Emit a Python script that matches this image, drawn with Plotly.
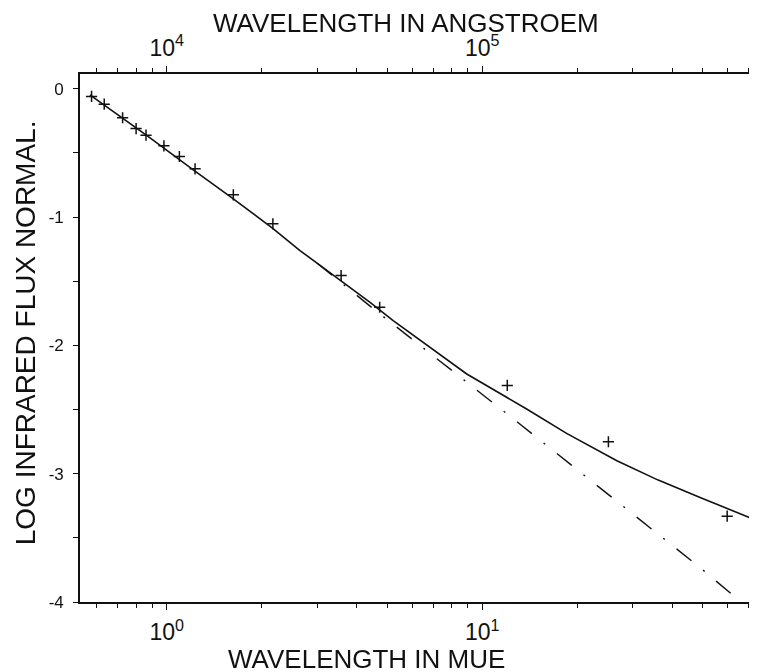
import plotly.graph_objects as go

# ---- data ----
obs_wavelength_um = [0.578, 0.634, 0.725, 0.80, 0.86, 0.98, 1.097, 1.23, 1.626, 2.17, 3.57, 4.73, 12.0, 25.1, 59.7]
obs_log_flux = [-0.060, -0.120, -0.226, -0.31, -0.362, -0.445, -0.528, -0.624, -0.827, -1.053, -1.456, -1.703, -2.312, -2.751, -3.331]

model_wavelength_um = [0.571, 0.72, 0.864, 1.214, 1.626, 2.178, 2.645, 3.33, 4.41, 5.22, 6.92, 8.93, 13.82, 18.5, 26.7, 36.1, 49.0, 73.7]
model_log_flux = [-0.047, -0.221, -0.364, -0.632, -0.858, -1.092, -1.261, -1.443, -1.665, -1.807, -2.028, -2.223, -2.496, -2.686, -2.899, -3.05, -3.186, -3.362]

photo_wavelength_um = [3.0, 4.46, 11.72, 49.0, 66.0]
photo_log_flux = [-1.36, -1.704, -2.515, -3.732, -4.0]

y_tick_vals = [0, -1, -2, -3, -4]
y_tick_text = ["0", "-1", "-2", "-3", "-4"]
y_minor_vals = [-0.5, -1.5, -2.5, -3.5]

bottom_tick_vals = [1, 10]
bottom_tick_text = ["10<sup>0</sup>", "10<sup>1</sup>"]
bottom_minor_vals = [0.6, 0.7, 0.8, 0.9, 2, 3, 4, 5, 6, 7, 8, 9, 20, 30, 40, 50, 60, 70]

top_tick_vals = [1e4, 1e5]
top_tick_text = ["10<sup>4</sup>", "10<sup>5</sup>"]
top_minor_vals = [6e3, 7e3, 8e3, 9e3, 2e4, 3e4, 4e4, 5e4, 6e4, 7e4, 8e4, 9e4, 2e5, 3e5, 4e5, 5e5, 6e5, 7e5]

UM_TO_A = 1e4
x_range_log = [-0.2747, 1.8705]
y_range = [-4.0, 0.115]

FONT = "Liberation Sans"
INK = "#111111"

fig = go.Figure()

fig.add_trace(go.Scatter(
    x=model_wavelength_um, y=model_log_flux, mode="lines",
    line=dict(color=INK, width=1.6), showlegend=False, hoverinfo="skip"))

fig.add_trace(go.Scatter(
    x=photo_wavelength_um, y=photo_log_flux, mode="lines",
    line=dict(color=INK, width=1.4, dash="19px,15px,2px,15px"),
    showlegend=False, hoverinfo="skip"))

fig.add_trace(go.Scatter(
    x=obs_wavelength_um, y=obs_log_flux, mode="markers",
    marker=dict(symbol="cross-thin", size=8, line=dict(color=INK, width=1.5)),
    showlegend=False))

# invisible trace carrying the top (Angstrom) axis
fig.add_trace(go.Scatter(
    x=[w * UM_TO_A for w in obs_wavelength_um], y=obs_log_flux,
    xaxis="x2", mode="markers", opacity=0, showlegend=False, hoverinfo="skip"))

axis_common = dict(
    type="log", showgrid=False, zeroline=False, showline=True, automargin=False,
    linecolor=INK, linewidth=1.6, ticks="outside", ticklen=6, tickwidth=1.3,
    tickcolor=INK, tickfont=dict(family=FONT, size=23, color=INK),
)

# page body has an 8px margin, so the figure is sized/offset to compensate
fig.update_layout(
    width=749, height=664,
    margin=dict(l=72, r=0, t=66, b=70, autoexpand=False),
    paper_bgcolor="white", plot_bgcolor="white",
    xaxis=dict(
        **axis_common, range=x_range_log,
        tickmode="array", tickvals=bottom_tick_vals, ticktext=bottom_tick_text,
        minor=dict(tickmode="array", tickvals=bottom_minor_vals, ticks="outside",
                   ticklen=4, tickwidth=1.2, tickcolor=INK, showgrid=False),
        ticklabelstandoff=3,
    ),
    xaxis2=dict(
        **axis_common, overlaying="x", side="top",
        range=[x_range_log[0] + 4, x_range_log[1] + 4],
        tickmode="array", tickvals=top_tick_vals, ticktext=top_tick_text,
        minor=dict(tickmode="array", tickvals=top_minor_vals, ticks="outside",
                   ticklen=4, tickwidth=1.2, tickcolor=INK, showgrid=False),
        ticklabelstandoff=1,
    ),
    yaxis=dict(
        range=y_range, showgrid=False, zeroline=False, showline=True, automargin=False,
        linecolor=INK, linewidth=1.6, ticks="outside", ticklen=5, tickwidth=1.3,
        tickcolor=INK, tickmode="array", tickvals=y_tick_vals, ticktext=y_tick_text,
        tickfont=dict(family=FONT, size=17, color=INK),
        minor=dict(tickmode="array", tickvals=y_minor_vals, ticks="outside",
                   ticklen=5, tickwidth=1.2, tickcolor=INK, showgrid=False),
        ticklabelstandoff=6,
    ),
    annotations=[
        dict(text="WAVELENGTH IN ANGSTROEM", xref="paper", yref="paper",
             x=0.481, y=1.097, xanchor="center", yanchor="middle", showarrow=False,
             font=dict(family=FONT, size=26, color=INK)),
        dict(text="WAVELENGTH IN MUE", xref="paper", yref="paper",
             x=0.4225, y=-0.108, xanchor="center", yanchor="middle", showarrow=False,
             font=dict(family=FONT, size=26, color=INK)),
        dict(text="LOG INFRARED FLUX NORMAL.", xref="paper", yref="paper",
             x=-0.0812, y=0.509, xanchor="center", yanchor="middle", showarrow=False,
             textangle=-90, font=dict(family=FONT, size=28, color=INK)),
    ],
)

fig.write_html("out.html")
